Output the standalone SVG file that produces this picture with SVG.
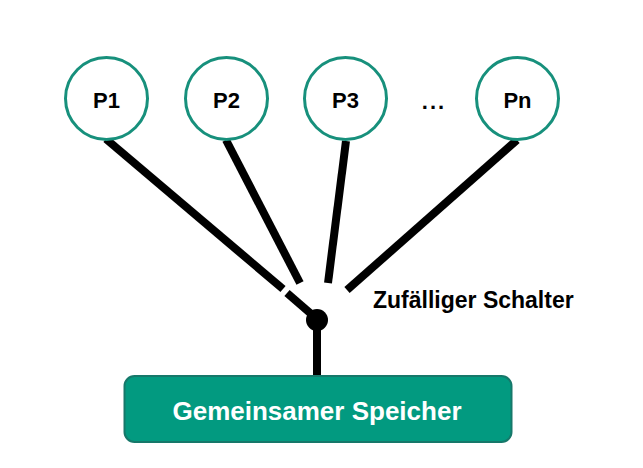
<svg xmlns="http://www.w3.org/2000/svg" width="643" height="468" viewBox="0 0 643 468">
<style>
.node circle{fill:#fff;stroke:#17907c;stroke-width:3}
.lbl{font-family:"Liberation Sans",Arial,sans-serif;font-weight:bold;font-size:22px;fill:#000;text-anchor:middle}
.conn line{stroke:#000;stroke-width:8}
</style>
<rect width="643" height="468" fill="#fff"/>
<g class="conn">
<line x1="106" y1="139" x2="283" y2="289"/>
<line x1="287" y1="293" x2="317" y2="319"/>
<line x1="226" y1="140" x2="300" y2="283"/>
<line x1="346" y1="141" x2="328" y2="283"/>
<line x1="517" y1="140" x2="347" y2="290"/>
<line x1="317" y1="319" x2="317" y2="377"/>
<circle cx="317" cy="320" r="11" fill="#000"/>
</g>
<g id="p1" class="node"><circle cx="106.5" cy="98.5" r="41"/><text class="lbl" x="106.5" y="108">P1</text></g>
<g id="p2" class="node"><circle cx="226.5" cy="98.5" r="41"/><text class="lbl" x="226.5" y="108">P2</text></g>
<g id="p3" class="node"><circle cx="345.5" cy="98.5" r="41"/><text class="lbl" x="345.5" y="108">P3</text></g>
<text class="lbl" x="434" y="109" font-size="26" letter-spacing="2">...</text>
<g id="pn" class="node"><circle cx="517.5" cy="98.5" r="41"/><text class="lbl" x="517.5" y="108">Pn</text></g>
<text x="373" y="308" font-family="'Liberation Sans',Arial,sans-serif" font-weight="bold" font-size="23" fill="#000">Zufälliger Schalter</text>
<g id="mem"><rect x="124.5" y="376" width="387" height="66" rx="10" fill="#029a80" stroke="#16786a" stroke-width="2"/>
<text x="317" y="420" text-anchor="middle" font-family="'Liberation Sans',Arial,sans-serif" font-weight="bold" font-size="26" fill="#fff">Gemeinsamer Speicher</text></g>
</svg>
